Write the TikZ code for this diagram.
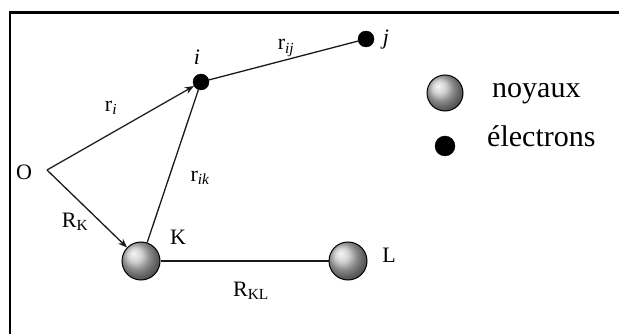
\documentclass[tikz,border=0pt]{standalone}
\usepackage{fontspec}
\setmainfont{Liberation Serif}
\usetikzlibrary{arrows.meta, positioning}
\definecolor{framecol}{RGB}{0,0,0}
\definecolor{nucleus}{RGB}{195,195,195}
\definecolor{electron}{RGB}{0,0,0}
\definecolor{linegray}{RGB}{25,25,25}
\tikzset{
  % Nucleus (shaded ball)
  noyau/.style={
    circle, minimum size=38pt, inner sep=0pt,
    ball color=nucleus, draw=black, line width=1pt
  },
  % Electron (black dot)
  electron/.style={
    circle, minimum size=16pt, inner sep=0pt,
    fill=electron, draw=electron
  },
  % Position vector
  vec/.style={
    -{Stealth[length=9pt,width=7pt]}, color=linegray, line width=1.3pt
  },
  % Plain distance line
  link/.style={
    color=linegray, line width=1.3pt
  },
  % Point and vector labels
  lbl/.style={
    font=\fontsize{22}{25}\selectfont, inner sep=0pt
  },
  % Legend text
  legendtext/.style={
    font=\fontsize{30}{34}\selectfont, inner sep=0pt, anchor=base west
  },
}
\begin{document}
\begin{tikzpicture}[x=1pt, y=-1pt]
  \useasboundingbox (0,0) rectangle (619,334);
  % frame (open on the right and bottom)
  \draw[framecol, line width=2.5pt] (10,334) -- (10,12.5) -- (619,12.5);

  % particles
  \coordinate (O) at (47,170);
  \node[electron] (i) at (201,82) {};
  \node[electron] (j) at (366,39) {};
  \node[noyau] (K) at (141,261) {};
  \node[noyau] (L) at (348,261) {};

  % vectors and distances
  \draw[vec] (O) -- (i);
  \draw[vec] (O) -- (K);
  \draw[link] (K) -- (i);
  \draw[link] (i) -- (j);
  \draw[link] (K) -- (L);

  % labels
  \node[lbl] (Olbl) at (24,172) {O};
  \node[lbl] (ilbl) at (197,57) {\itshape i};
  \node[lbl] (jlbl) at (386,40) {\itshape j};
  \node[lbl] (Klbl) at (178,237) {K};
  \node[lbl] (Llbl) at (389,255) {L};
  \node[lbl] (ri)  at (111,108) {r\textsubscript{\itshape i}};
  \node[lbl] (rik) at (200,178) {r\textsubscript{\itshape ik}};
  \node[lbl] (rij) at (286,48)  {r\textsubscript{\itshape ij}};
  \node[lbl] (RK)  at (75,222)  {R\textsubscript{K}};
  \node[lbl] (RKL) at (251,291) {R\textsubscript{KL}};

  % legend
  \node[noyau, minimum size=36pt] (legN) at (445,93) {};
  \node[electron, minimum size=20pt] (legE) at (445,146) {};
  \node[legendtext] (legNtxt) at (492,98) {noyaux};
  \node[legendtext] (legEtxt) at (487,147) {électrons};
\end{tikzpicture}
\end{document}
